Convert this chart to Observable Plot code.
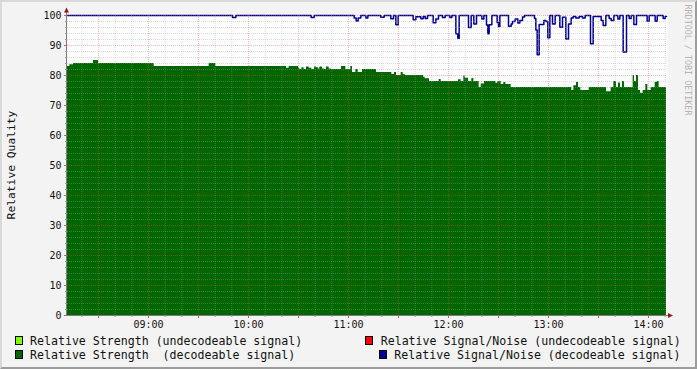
<!DOCTYPE html>
<html>
<head>
<meta charset="utf-8">
<script src="https://cdn.jsdelivr.net/npm/d3@7"></script>
<script src="https://cdn.jsdelivr.net/npm/@observablehq/plot@0.6"></script>
<style>
  body { margin: 0; background: #f3f3f3; }
  #wrap { position: relative; width: 697px; height: 369px; background: #f3f3f3; overflow: hidden;
          font-family: "DejaVu Sans Mono", monospace; color: #111; }
  #chart { position: absolute; left: 0; top: 0; }
  .frame { position: absolute; left: 0; top: 0; width: 697px; height: 369px; box-sizing: border-box;
           border-top: 2px solid #d9d9d9; border-left: 2px solid #d9d9d9;
           border-right: 2px solid #9c9c9c; border-bottom: 2px solid #9c9c9c; pointer-events: none; }
  .sw { position: absolute; width: 8px; height: 9px; box-sizing: border-box; border: 1px solid #000; }
  .lt { position: absolute; font-size: 11.6px; line-height: 12px; white-space: pre; }
  .ylab { position: absolute; font-size: 11.3px; white-space: pre; transform: translate(-50%, -50%) rotate(-90deg); }
  .wm { position: absolute; font-size: 8.4px; color: #b4b4b4; white-space: pre; transform: translate(-50%, -50%) rotate(90deg); }
</style>
</head>
<body>
<div id="wrap">
  <div id="chart"></div>
  <div id="legend"></div>
  <div class="ylab" style="left:11px; top:165px;">Relative Quality</div>
  <div class="wm" style="left:688px; top:60px;">RRDTOOL / TOBI OETIKER</div>
  <div class="frame"></div>
</div>
<script>
// time axis in minutes since midnight
const xStart = 491.4;
const xEnd = 851.4;
const dataEnd = 850.8;
const yTicks = [0, 10, 20, 30, 40, 50, 60, 70, 80, 90, 100];
const yMinorTicks = [2,4,6,8,12,14,16,18,22,24,26,28,32,34,36,38,42,44,46,48,52,54,56,58,62,64,66,68,72,74,76,78,82,84,86,88,92,94,96,98];
const xTickMinutes = [540, 600, 660, 720, 780, 840];
const xTickLabels = ["09:00", "10:00", "11:00", "12:00", "13:00", "14:00"];
const xMajorGrid = [510, 540, 570, 600, 630, 660, 690, 720, 750, 780, 810, 840];
const xMinorGrid = [500, 520, 530, 550, 560, 580, 590, 610, 620, 640, 650, 670, 680, 700, 710, 730, 740, 760, 770, 790, 800, 820, 830, 850];

// Relative Strength (decodeable signal) – step values
const strengthTimes = [491.4, 492.8, 495, 507, 510, 543.4, 576.4, 580.4,
  622.8, 624.4, 630, 630.8, 632, 633.4, 634.8, 636.4, 638, 639.6, 640.8, 642, 642.8, 644.4, 645.6, 646.8, 648.4, 649.6, 655.8, 658.4, 661.4, 662.4, 664.4, 665.8, 668.4,
  676.8, 686, 687.6, 688.8, 691.6, 692.8, 694, 705, 706, 708.6, 714.4, 715.6, 726, 727.6, 729.2, 730, 732, 734, 735.2, 738.4, 739.6, 741.6, 748.4, 749.6, 751.6, 753.2, 754.4, 757.6,
  794, 795.2, 796.8, 798, 799.4, 804.4, 814.8, 817.6, 819.2, 820.8, 822, 823.2, 824.4, 825.6, 830.8, 831.6, 832.8, 834, 835.2, 836.8, 838.4, 839.6, 841.6, 844, 845.2, 846.4];
const strengthValues = [83, 83.6, 84, 85, 84, 83, 84, 83,
  82.4, 83, 82.4, 82, 82.6, 82, 82.8, 82.4, 82, 82.8, 82.6, 82.2, 82.8, 82.2, 82, 82.8, 82.2, 82, 83, 82, 83, 81, 82, 81, 82,
  81, 80.3, 81, 80, 81, 80.3, 80, 79.4, 78.9, 78, 78.7, 78, 78.6, 78, 79.8, 79.1, 78, 79, 78, 76, 77.2, 78, 77.4, 78, 77, 77.7, 77, 76,
  75, 76.6, 77.7, 76, 75, 76, 74.6, 76, 78, 76, 77.5, 76, 78, 76, 80, 78, 80, 75, 74.1, 75, 77, 75, 76, 77.7, 78, 76];

// Relative Signal/Noise (decodeable signal) – step values
const snrTimes = [491.4, 590.4, 592.4, 637.6, 639.4, 663.4, 664.6, 665.8, 667.4,
  670.4, 671.6, 679.4, 681.4, 685.4, 687, 688.4, 689.8, 698.8, 700.4, 703.4, 704.8, 706, 707.4, 710.8, 712.4, 714, 716.4, 718, 720.8, 722,
  724.4, 725.6, 726.4, 732, 733.6, 735.2, 736.8, 740, 741.2, 742.8, 743.6, 744.4, 746, 749.2, 750, 750.8, 756, 757.6,
  758.4, 760, 761.6, 762.8, 764.4, 765.6, 771.6, 772.4, 773.2, 774.4, 777.2, 778.4, 779.6, 780.8, 782.4, 784, 786.8, 788.4,
  790.4, 792, 793.6, 794.8, 796.4, 798.4, 800.4, 802, 805.2, 806.8, 811.6, 812.8, 814.4, 816.4, 817.6, 819.2, 821.6, 822.8,
  824.8, 826.8, 828.4, 829.6, 831.2, 832.8, 839.2, 840.4, 844, 845.2, 848.8, 850];
const snrValues = [100, 99.3, 100, 99.3, 100, 99.2, 98.2, 99.2, 100,
  99.2, 100, 99.4, 100, 98.9, 100, 96.9, 100, 98.6, 99.6, 98.9, 99.7, 99, 100, 97.6, 98.8, 100, 99.3, 100, 99.3, 100,
  93.9, 92.4, 100, 96, 100, 97.2, 100, 98.8, 100, 96.8, 93.9, 96.9, 100, 97.7, 96.3, 100, 96.4, 97.2,
  98, 98.8, 97.5, 98.3, 99.5, 100, 99, 95.2, 86.9, 97, 98.3, 98, 92.6, 100, 97.2, 100, 96.1, 99.4,
  92.2, 97.2, 99.2, 99.7, 99.2, 99.7, 99.2, 100, 90.6, 99.7, 98.3, 96.7, 100, 99, 98.3, 100, 98.8, 100,
  87.8, 100, 99, 100, 97, 100, 98.1, 100, 98.1, 100, 99, 99.7];

const legendLabels = [
  "Relative Strength (undecodeable signal)",
  "Relative Signal/Noise (undecodeable signal)",
  "Relative Strength  (decodeable signal)",
  "Relative Signal/Noise (decodeable signal)"
];
const legendColors = ["#80ff00", "#ff0000", "#006600", "#000090"];

const strength = strengthTimes.map((t, i) => ({t, v: strengthValues[i]}));
strength.push({t: dataEnd, v: strengthValues[strengthValues.length - 1]});
const snr = snrTimes.map((t, i) => ({t, v: snrValues[i]}));
snr.push({t: dataEnd, v: snrValues[snrValues.length - 1]});

function axesArrows(index, scales, values, dims) {
  const g = d3.create("svg:g");
  const x0 = scales.x(xStart), y0 = scales.y(0);
  const xr = scales.x(xEnd), yt = scales.y(100);
  g.append("line").attr("x1", x0 - 0.5).attr("x2", x0 - 0.5).attr("y1", y0).attr("y2", yt - 4)
    .attr("stroke", "#7a7a7a").attr("stroke-width", 1);
  g.append("line").attr("x1", x0 - 1).attr("x2", xr + 2).attr("y1", y0 + 0.5).attr("y2", y0 + 0.5)
    .attr("stroke", "#7a7a7a").attr("stroke-width", 1);
  g.append("path").attr("d", `M${x0 - 3},${yt - 2.5}L${x0 + 2},${yt - 2.5}L${x0 - 0.5},${yt - 7.5}Z`).attr("fill", "#8b1c1c");
  g.append("path").attr("d", `M${xr + 1},${y0 - 2}L${xr + 1},${y0 + 3}L${xr + 6},${y0 + 0.5}Z`).attr("fill", "#8b1c1c");
  return g.node();
}

const chart = Plot.plot({
  width: 697,
  height: 332,
  marginLeft: 67,
  marginRight: 30,
  marginTop: 15,
  marginBottom: 17,
  style: {background: "transparent", fontFamily: "DejaVu Sans Mono, monospace", fontSize: "10px", color: "#111"},
  x: {type: "linear", domain: [xStart, xEnd], axis: null},
  y: {domain: [0, 100], axis: null},
  marks: [
    Plot.frame({fill: "white", stroke: "none"}),
    Plot.areaY(strength, {x: "t", y: "v", curve: "step-after", fill: "#006600"}),
    Plot.lineY(snr, {x: "t", y: "v", curve: "step-after", stroke: "#000090", strokeWidth: 1.5}),
    Plot.gridX(xMinorGrid, {stroke: "#a0a0a0", strokeOpacity: 0.4, strokeDasharray: "1,1"}),
    Plot.gridY(yMinorTicks, {stroke: "#a0a0a0", strokeOpacity: 0.4, strokeDasharray: "1,1"}),
    Plot.gridX(xMajorGrid, {stroke: "#e05050", strokeOpacity: 0.4, strokeDasharray: "1,1"}),
    Plot.gridY(yTicks.filter(d => d > 0), {stroke: "#e05050", strokeOpacity: 0.4, strokeDasharray: "1,1"}),
    axesArrows,
    Plot.axisY(yMinorTicks, {tickSize: 2, stroke: "#999", fill: "none", label: null}),
    Plot.axisY(yTicks, {tickSize: 3, stroke: "#c06060", fill: "none", label: null}),
    Plot.axisY(yTicks, {tickSize: 0, tickPadding: 6, stroke: "none", fill: "#111", label: null}),
    Plot.axisX(xMinorGrid, {tickSize: 2, stroke: "#999", fill: "none", label: null}),
    Plot.axisX(xMajorGrid, {tickSize: 3, stroke: "#c06060", fill: "none", label: null}),
    Plot.axisX(xTickMinutes, {tickSize: 0, tickPadding: 5, stroke: "none", fill: "#111", label: null,
      tickFormat: d => xTickLabels[xTickMinutes.indexOf(d)]})
  ]
});
document.getElementById("chart").appendChild(chart);

// legend
const legendPos = [
  {sx: 15, tx: 30, y: 336},
  {sx: 365, tx: 380.7, y: 336},
  {sx: 15, tx: 30, y: 350},
  {sx: 379.3, tx: 394.3, y: 350}
];
const legend = document.getElementById("legend");
legendLabels.forEach((lab, i) => {
  const p = legendPos[i];
  const sw = document.createElement("div");
  sw.className = "sw";
  sw.style.left = p.sx + "px"; sw.style.top = p.y + "px"; sw.style.background = legendColors[i];
  legend.appendChild(sw);
  const t = document.createElement("div");
  t.className = "lt";
  t.style.left = p.tx + "px"; t.style.top = (p.y - 1.5) + "px";
  t.textContent = lab;
  legend.appendChild(t);
});
</script>
</body>
</html>
